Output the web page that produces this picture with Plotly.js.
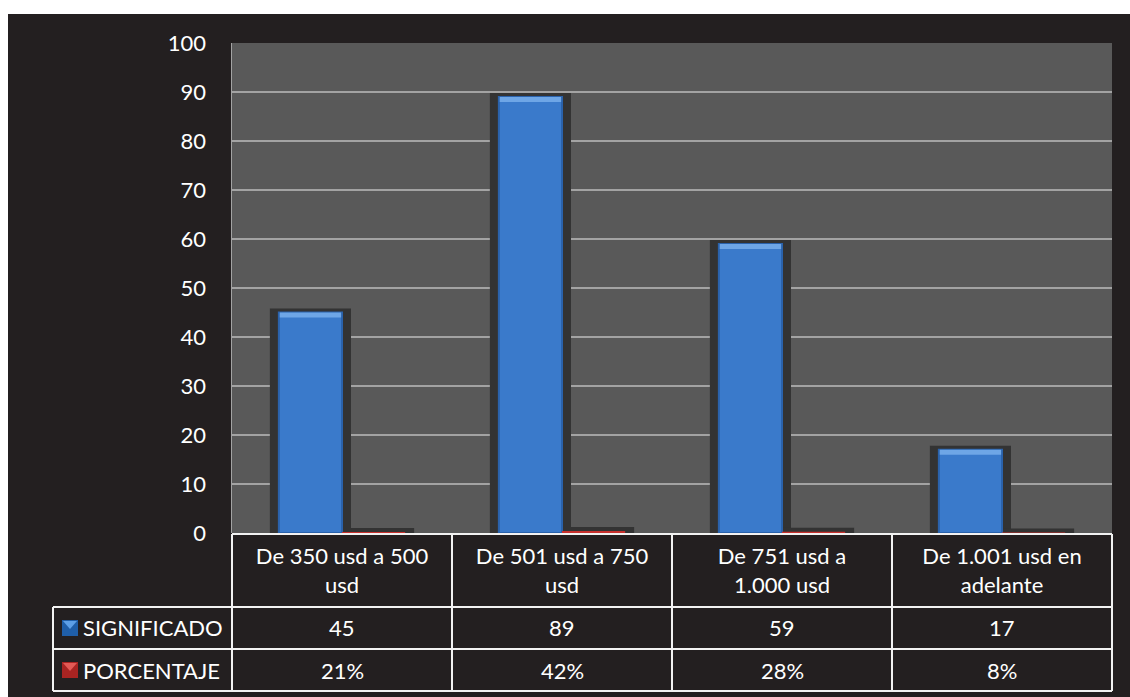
<!DOCTYPE html>
<html>
<head>
<meta charset="utf-8">
<script src="https://cdn.plot.ly/plotly-3.0.1.min.js"></script>
<style>
  html, body { margin: 0; padding: 0; background: #ffffff; }
  #chart { width: 1130px; height: 697px; }
</style>
</head>
<body>
<div id="chart"></div>
<script>
// Salary ranges and the two series of the survey table
const categories = [
  "De 350 usd a 500<br>usd",
  "De 501 usd a 750<br>usd",
  "De 751 usd a<br>1.000 usd",
  "De 1.001 usd en<br>adelante"
];
const significado = [45, 89, 59, 17];
const porcentaje = [21, 42, 28, 8];          // percent
const seriesNames = ["SIGNIFICADO", "PORCENTAJE"];
const yTicks = [0, 10, 20, 30, 40, 50, 60, 70, 80, 90, 100];

// Page geometry (pixels)
const W = 1130, H = 697;
const M = { l: 232, r: 18, t: 43, b: 164 };
const plotW = W - M.l - M.r, plotH = H - M.t - M.b;
const px = x => (x - M.l) / plotW;            // pixel x -> paper x
const py = y => (H - M.b - y) / plotH;        // pixel y -> paper y
const unitsPerPx = (yTicks[yTicks.length - 1] - yTicks[0]) / plotH;

const FONT = "Lato, 'Open Sans', sans-serif";
const FS = 22;
const TXT = "#ffffff";

// Bar geometry in category units
const barW = 0.287;
const shadowPad = 9 / (plotW / categories.length);
const shadowTop = 4 * unitsPerPx;
const bevel = 5 * unitsPerPx;

// the percentage series is plotted as a fraction on the same axis
const pctValues = porcentaje.map(p => p / 100);

const traces = [
  // soft dark shadow behind each bar
  { type: "bar", x: categories, y: significado.map(v => v + shadowTop),
    offset: -barW - shadowPad, width: barW + 2 * shadowPad,
    marker: { color: "#333333" }, hoverinfo: "skip", showlegend: false },
  { type: "bar", x: categories, y: pctValues.map(v => v + shadowTop),
    offset: -shadowPad, width: barW + 2 * shadowPad,
    marker: { color: "#333333" }, hoverinfo: "skip", showlegend: false },
  // main faces
  { type: "bar", name: seriesNames[0], x: categories, y: significado,
    offset: -barW, width: barW,
    marker: { color: "#3a7acb", line: { color: "#2a62ab", width: 2 } } },
  { type: "bar", name: seriesNames[1], x: categories, y: pctValues,
    offset: 0, width: barW,
    marker: { color: "#c8302d", line: { width: 0 } } },
  // bevel highlight on the blue tops
  { type: "bar", x: categories, y: significado.map(() => bevel),
    base: significado.map(v => v - bevel),
    offset: -barW + 0.004, width: barW - 0.008,
    marker: { color: "#6ea6e6", line: { width: 0 } }, hoverinfo: "skip", showlegend: false }
];

// Data table drawn under the axis
const lineStyle = { color: "#f2f2f2", width: 2 };
const rowY = [533, 607, 649, 691];
const tableLeft = 53;
const shapes = [];
// white frame at the top and left edge of the page
shapes.push({ type: "rect", xref: "paper", yref: "paper", layer: "above",
  x0: px(0), x1: px(W), y0: py(0), y1: py(14), fillcolor: "#ffffff", line: { width: 0 } });
shapes.push({ type: "rect", xref: "paper", yref: "paper", layer: "above",
  x0: px(0), x1: px(8), y0: py(0), y1: py(H), fillcolor: "#ffffff", line: { width: 0 } });
// horizontal rules
shapes.push({ type: "line", xref: "paper", yref: "paper", x0: 0, x1: 1, y0: py(rowY[0] + 1), y1: py(rowY[0] + 1), line: lineStyle, layer: "above" });
for (let i = 1; i < rowY.length; i++) {
  shapes.push({ type: "line", xref: "paper", yref: "paper", x0: px(tableLeft), x1: 1,
    y0: py(rowY[i]), y1: py(rowY[i]), line: lineStyle, layer: "above" });
}
// vertical rules
shapes.push({ type: "line", xref: "paper", yref: "paper", x0: px(tableLeft), x1: px(tableLeft),
  y0: py(rowY[1]), y1: py(rowY[3]), line: lineStyle, layer: "above" });
for (let i = 0; i <= categories.length; i++) {
  const xp = i / categories.length;
  shapes.push({ type: "line", xref: "paper", yref: "paper", x0: xp, x1: xp,
    y0: py(rowY[0] + 1), y1: py(rowY[3]), line: lineStyle, layer: "above" });
}
// legend keys with a bevelled top
const keyColors = [["#1f5ea8", "#5d9fe6"], ["#a82422", "#e25a55"]];
[628, 670].forEach((cy, i) => {
  const x0 = 62, x1 = 78, y0 = cy - 8, y1 = cy + 8;
  shapes.push({ type: "rect", xref: "paper", yref: "paper", layer: "above",
    x0: px(x0), x1: px(x1), y0: py(y1), y1: py(y0),
    fillcolor: keyColors[i][0], line: { width: 0 } });
  shapes.push({ type: "path", xref: "paper", yref: "paper", layer: "above",
    path: `M ${px(x0 + 1)} ${py(y0 + 1)} L ${px(x1 - 1)} ${py(y0 + 1)} L ${px((x0 + x1) / 2)} ${py(cy + 1)} Z`,
    fillcolor: keyColors[i][1], line: { width: 0 } });
});

const annotations = [];
const rowCenters = [628, 670];
seriesNames.forEach((name, r) => {
  annotations.push({ xref: "paper", yref: "paper", x: px(81), y: py(rowCenters[r]),
    xanchor: "left", yanchor: "middle", text: name, showarrow: false,
    font: { family: FONT, size: FS, color: TXT } });
});
categories.forEach((c, i) => {
  annotations.push({ xref: "x", yref: "paper", x: c, y: py(rowCenters[0]),
    xanchor: "center", yanchor: "middle", text: String(significado[i]), showarrow: false,
    font: { family: FONT, size: FS, color: TXT } });
  annotations.push({ xref: "x", yref: "paper", x: c, y: py(rowCenters[1]),
    xanchor: "center", yanchor: "middle", text: porcentaje[i] + "%", showarrow: false,
    font: { family: FONT, size: FS, color: TXT } });
});

const layout = {
  width: W, height: H,
  margin: { l: M.l, r: M.r, t: M.t, b: M.b, pad: 0 },
  paper_bgcolor: "#231f20",
  plot_bgcolor: "#595959",
  barmode: "overlay",
  showlegend: false,
  font: { family: FONT, color: TXT },
  xaxis: {
    type: "category", categoryorder: "array", categoryarray: categories,
    showgrid: false, zeroline: false, showline: false, ticks: "",
    tickfont: { family: FONT, size: FS, color: TXT },
    ticklabelstandoff: 8, fixedrange: true
  },
  yaxis: {
    range: [0, 100], tickvals: yTicks, ticktext: yTicks.map(String),
    showgrid: true, gridcolor: "#a3a3a3", gridwidth: 1.5,
    zeroline: false, showline: true, linecolor: "#a3a3a3", linewidth: 1.5,
    ticks: "", ticklabelstandoff: 20,
    tickfont: { family: FONT, size: FS, color: TXT }, fixedrange: true
  },
  shapes: shapes,
  annotations: annotations
};

Plotly.newPlot("chart", traces, layout, { displayModeBar: false, staticPlot: true });
</script>
</body>
</html>
